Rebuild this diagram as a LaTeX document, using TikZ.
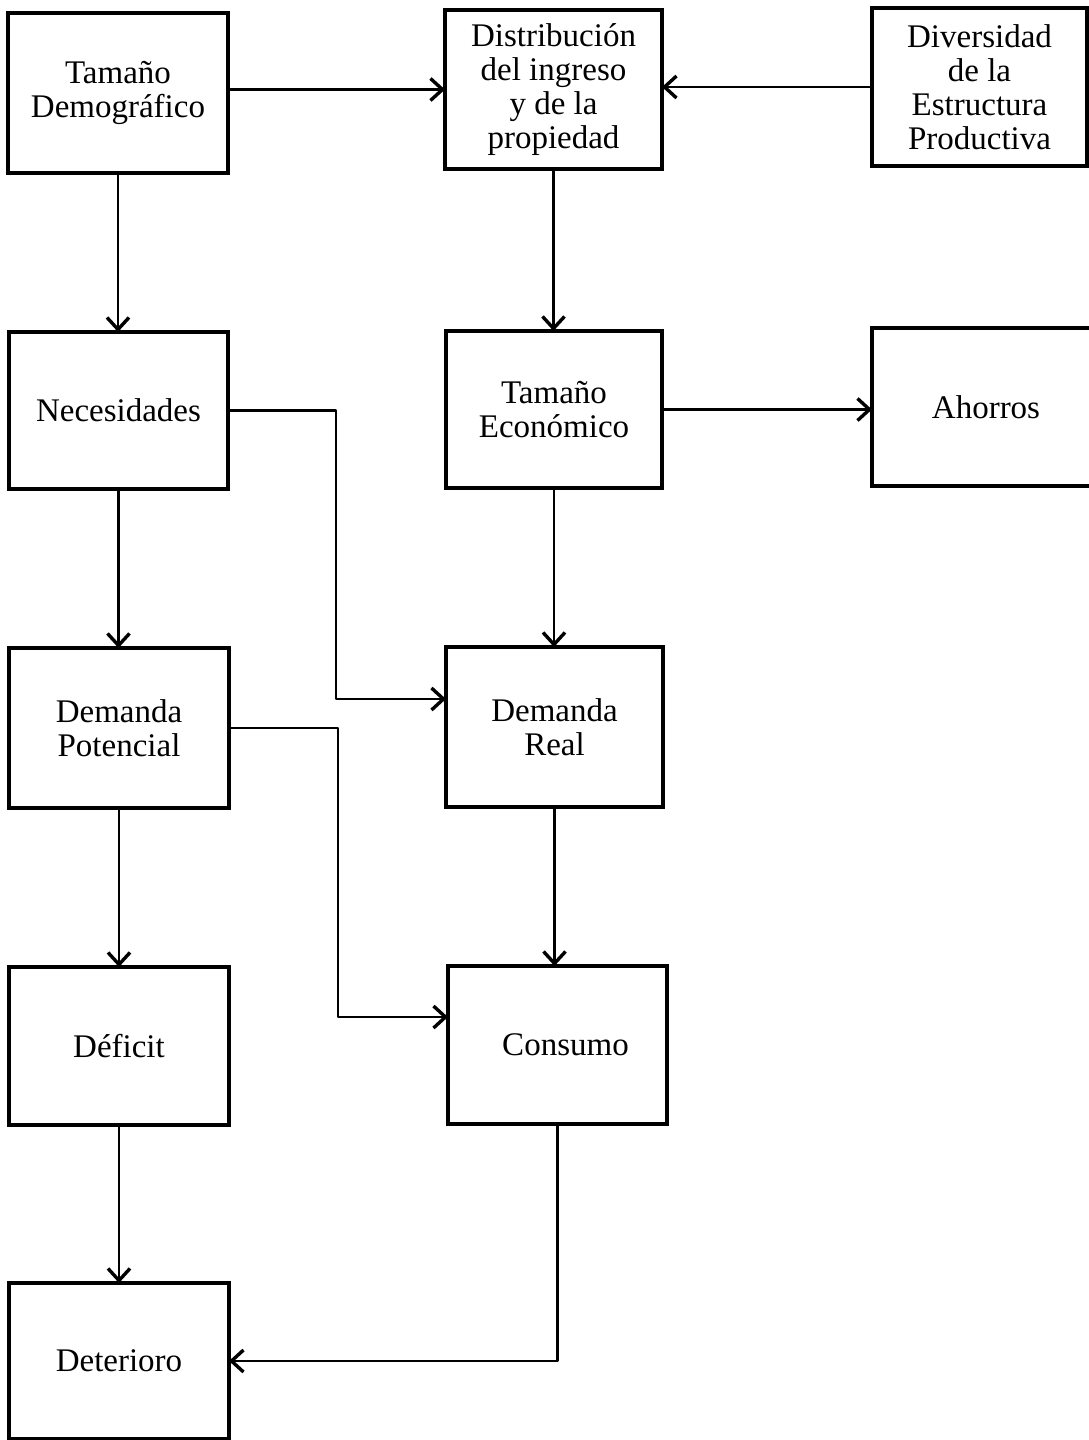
\documentclass[tikz,border=0pt]{standalone}
\usepackage{fontspec}
\setmainfont{Liberation Serif}
\usetikzlibrary{arrows.meta,calc}
\begin{document}
\begin{tikzpicture}[x=0.5pt,y=-0.5pt,
  box/.style={draw, line width=1.7pt, outer sep=0pt, inner sep=2pt, align=center,
    font=\fontsize{16.5}{17}\selectfont},
  arr/.style={line width=1.4pt, line join=round, -{Straight Barb[length=6pt,width=11pt,line width=1.7pt]}},
  varr/.style={arr, line width=1.1pt}]
\useasboundingbox (0,0) rectangle (1088,1440);
\fill[white] (0,0) rectangle (1088,1440);
% boxes (minimum sizes in pt = px/2)
\node[box, minimum width=110pt, minimum height=80pt] (TD) at (118,93) {Tamaño\\Demográfico};
\node[box, minimum width=108.5pt, minimum height=79.5pt] (DI) at (553.5,89.5) {Distribución\\del ingreso\\y de la\\propiedad};
\node[box, minimum width=107.5pt, minimum height=79pt] (DV) at (979.5,87) {Diversidad\\de la\\Estructura\\Productiva};
\node[box, minimum width=109.5pt, minimum height=78.5pt] (NE) at (118.5,410.5) {Necesidades};
\node[box, minimum width=108pt, minimum height=78.5pt] (TE) at (554,409.5) {Tamaño\\Económico};
\node[box, minimum width=114pt, minimum height=79pt] (AH) at (986,407) {Ahorros};
\node[box, minimum width=110pt, minimum height=80pt] (DP) at (119,728) {Demanda\\Potencial};
\node[box, minimum width=108.5pt, minimum height=80pt] (DR) at (554.5,727) {Demanda\\Real};
\node[box, minimum width=110pt, minimum height=79pt] (DF) at (119,1046) {Déficit};
\node[box, minimum width=109.5pt, minimum height=79pt] (CO) at (557.5,1045) {\hspace*{8pt}Consumo};
\node[box, minimum width=110pt, minimum height=78pt] (DT) at (119,1361) {Deterioro};
% bend points
\coordinate (j1) at (336,699);
\coordinate (j2) at (338,1017);
% connectors
\draw[arr] (TD.east |- DI.west) -- (DI.west);
\draw[arr] (DV.west) -- (DI.east |- DV.west);
\draw[arr] (TE.east) -- (AH.west |- TE.east);
\draw[varr] (TD.south) -- (TD.south |- NE.north);
\draw[varr] (DI.south) -- (DI.south |- TE.north);
\draw[varr] (NE.south) -- (NE.south |- DP.north);
\draw[varr] (TE.south) -- (TE.south |- DR.north);
\draw[varr] (DP.south) -- (DP.south |- DF.north);
\draw[varr] (DR.south) -- (DR.south |- CO.north);
\draw[varr] (DF.south) -- (DF.south |- DT.north);
\draw[arr] (NE.east) -| (j1) -- (DR.west |- j1);
\draw[arr] (DP.east) -| (j2) -- (CO.west |- j2);
\draw[arr] (CO.south) |- (DT.east);
\end{tikzpicture}
\end{document}
